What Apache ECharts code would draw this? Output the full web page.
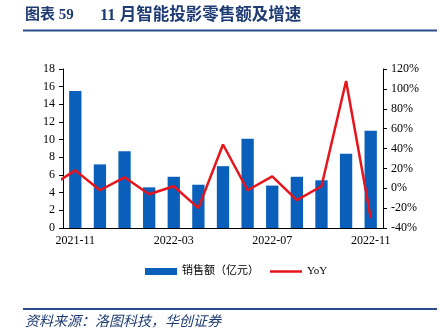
<!DOCTYPE html>
<html>
<head>
<meta charset="utf-8">
<script src="https://cdn.jsdelivr.net/npm/echarts@6/dist/echarts.min.js"></script>
<style>html,body{margin:0;padding:0;background:#fff;}#c{width:440px;height:334px;}</style>
</head>
<body>
<div id="c"></div>
<script>
var categories = ['2021-11','2021-12','2022-01','2022-02','2022-03','2022-04','2022-05','2022-06','2022-07','2022-08','2022-09','2022-10','2022-11'];
var sales = [15.5, 7.2, 8.7, 4.6, 5.8, 4.9, 7.0, 10.1, 4.8, 5.8, 5.4, 8.4, 11.0];
// YoY (%) ; first value is 2021-10 (only partly visible at the left edge)
var yoyMonths = ['2021-10'].concat(categories);
var yoy = [2, 18, -2, 11, -6, 2, -20, 44, -2, 12, -12, 2, 108, -30];
var leftTicks = {min: 0, max: 18, interval: 2};
var rightTicks = {min: -40, max: 120, interval: 20};

var yoyData = yoy.map(function (v, i) { return [i - 1, v]; });
var serif = '"Liberation Serif", "Times New Roman", serif';
var navy = '#1f3b73';

var chart = echarts.init(document.getElementById('c'));
chart.setOption({
  animation: false,
  backgroundColor: '#fff',
  grid: {left: 63, right: 57, top: 69, bottom: 106},
  graphic: [
    {type: 'text', left: 25, top: 8, style: {text: '图表 59', font: 'bold 15px ' + serif + ', "Noto Sans CJK SC"', fill: navy}},
    {type: 'text', left: 100, top: 7, style: {text: '11 月智能投影零售额及增速', font: 'bold 16.5px ' + serif + ', "Noto Sans CJK SC"', fill: navy}},
    {type: 'line', shape: {x1: 23, y1: 30.5, x2: 437, y2: 30.5}, style: {stroke: '#2b4c8a', lineWidth: 2}},
    {type: 'line', shape: {x1: 23, y1: 309, x2: 437, y2: 309}, style: {stroke: '#2b4c8a', lineWidth: 2}},
    {type: 'text', left: 25, top: 314, style: {text: '资料来源：洛图科技，华创证券', font: 'italic 14px "Noto Sans CJK SC"', fill: navy}}
  ],
  legend: {
    left: 140, top: 261, itemGap: 11, itemWidth: 32, itemHeight: 7,
    textStyle: {fontSize: 11, color: '#000', fontFamily: serif + ', "Noto Sans CJK SC"'},
    data: [{name: '销售额（亿元）', icon: 'rect'}, {name: 'YoY', icon: 'path://M0,0H32V2.5H0Z'}]
  },
  xAxis: [
    {
      type: 'category', data: categories, boundaryGap: true,
      axisLine: {lineStyle: {color: '#000', width: 1}},
      axisTick: {interval: 3, length: 4, lineStyle: {color: '#000'}},
      axisLabel: {interval: 3, margin: 7, fontSize: 12, color: '#000', fontFamily: serif}
    },
    {type: 'value', min: -0.5, max: 12.5, show: false}
  ],
  yAxis: [
    {
      type: 'value', min: leftTicks.min, max: leftTicks.max, interval: leftTicks.interval,
      splitLine: {show: false},
      axisLine: {show: true, onZero: false, lineStyle: {color: '#000'}},
      axisTick: {show: true, length: 4, lineStyle: {color: '#000'}},
      axisLabel: {fontSize: 12, color: '#000', fontFamily: serif, margin: 8}
    },
    {
      type: 'value', min: rightTicks.min, max: rightTicks.max, interval: rightTicks.interval,
      splitLine: {show: false},
      axisLine: {show: true, onZero: false, lineStyle: {color: '#000'}},
      axisTick: {show: true, length: 4, lineStyle: {color: '#000'}},
      axisLabel: {fontSize: 12, color: '#000', fontFamily: serif, margin: 8, formatter: '{value}%'}
    }
  ],
  series: [
    {name: '销售额（亿元）', type: 'bar', data: sales, barWidth: '50%', xAxisIndex: 0, yAxisIndex: 0,
     itemStyle: {color: '#0a5fba'}},
    {name: 'YoY', type: 'line', data: yoyData, xAxisIndex: 1, yAxisIndex: 1, symbol: 'none', clip: true,
     lineStyle: {color: '#e8141c', width: 2.5}, itemStyle: {color: '#e8141c'}}
  ]
});
</script>
</body>
</html>
